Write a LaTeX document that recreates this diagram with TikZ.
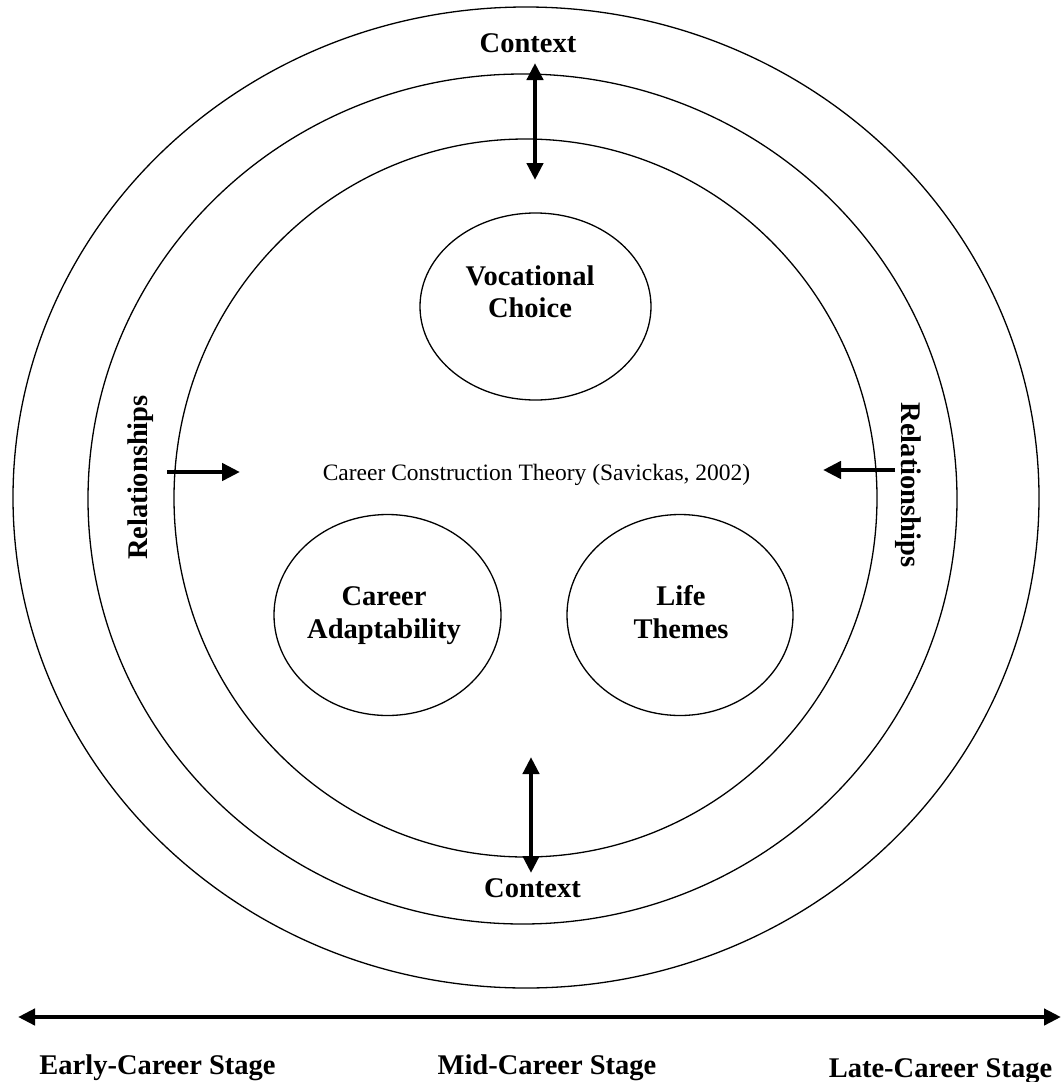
\documentclass[tikz,border=0pt]{standalone}
\usepackage{fontspec}
\setmainfont{Liberation Serif}
\usetikzlibrary{shapes.geometric,arrows.meta}
\tikzset{
  ring/.style={ellipse, draw=black, line width=1.3pt, inner sep=0pt},
  bubble/.style={ellipse, draw=black, line width=1.3pt, inner sep=0pt},
  lbl/.style={font=\fontsize{28.5}{32}\selectfont\bfseries, inner sep=0pt, anchor=base},
  thin lbl/.style={font=\fontsize{23.5}{28}\selectfont, inner sep=0pt, anchor=base},
  harrow/.style={line width=4.5pt, -{Triangle[length=18pt,width=17pt]}},
  darrow/.style={line width=4.5pt, {Triangle[length=17pt,width=16pt]}-{Triangle[length=17pt,width=16pt]}}
}
\begin{document}
\begin{tikzpicture}[x=1pt,y=-1pt]
\useasboundingbox (0,0) rectangle (1062,1082);
% rings
\node[ring, minimum width=1026pt, minimum height=981pt] (outer) at (526,497.5) {};
\node[ring, minimum width=869pt, minimum height=850pt] (middle) at (522.5,499) {};
\node[ring, minimum width=703pt, minimum height=718pt] (inner) at (525.5,498) {};
% bubbles
\node[bubble, minimum width=231pt, minimum height=187pt] (voc) at (535.5,306.5) {};
\node[bubble, minimum width=227pt, minimum height=201pt] (adapt) at (387.5,615) {};
\node[bubble, minimum width=226pt, minimum height=201pt] (life) at (680,615) {};
% bubble texts
\node[lbl] (voc1) at (530,285) {Vocational};
\node[lbl] (voc2) at (530,317) {Choice};
\node[lbl] (ad1) at (384,605) {Career};
\node[lbl] (ad2) at (384,638) {Adaptability};
\node[lbl] (lt1) at (681,605) {Life};
\node[lbl] (lt2) at (681,638) {Themes};
% centre text
\node[thin lbl] (cct) at (536.5,480) {Career Construction Theory (Savickas, 2002)};
% context labels
\node[lbl] (ctxtop) at (528,52) {Context};
\node[lbl] (ctxbot) at (532.5,897) {Context};
% relationships
\node[lbl, rotate=90] (relL) at (147,477.5) {Relationships};
\node[lbl, rotate=-90] (relR) at (901,485) {Relationships};
% arrows
\coordinate (ta1) at (535,63);
\coordinate (ta2) at (535,180);
\draw[darrow] (ta1) -- (ta2);
\coordinate (ba1) at (531,757);
\coordinate (ba2) at (531,873);
\draw[darrow] (ba1) -- (ba2);
\coordinate (la1) at (167,472);
\coordinate (la2) at (240,472);
\draw[harrow] (la1) -- (la2);
\coordinate (ra1) at (895,470);
\coordinate (ra2) at (823,470);
\draw[harrow] (ra1) -- (ra2);
% timeline
\coordinate (tl1) at (18,1017);
\coordinate (tl2) at (1061,1017);
\draw[darrow] (tl1) -- (tl2);
\node[lbl] (early) at (157.5,1074) {Early-Career Stage};
\node[lbl] (mid) at (547,1074) {Mid-Career Stage};
\node[lbl] (late) at (940.5,1077) {Late-Career Stage};
\end{tikzpicture}
\end{document}
